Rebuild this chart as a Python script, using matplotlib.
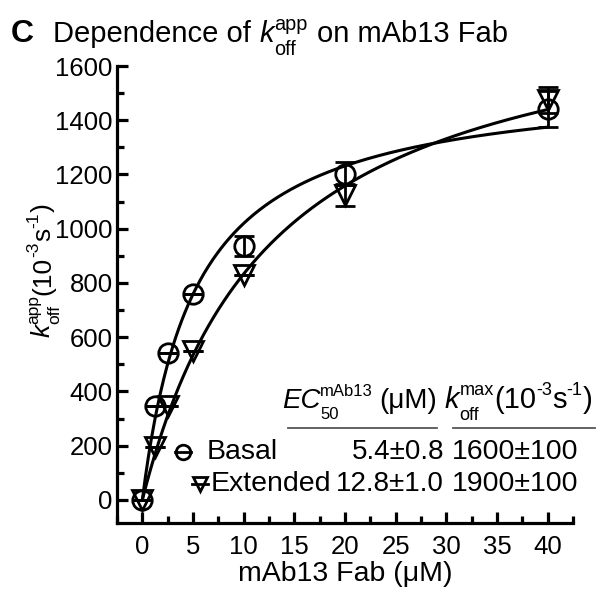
import numpy as np
import matplotlib
matplotlib.use("Agg")
import matplotlib.pyplot as plt
from matplotlib.lines import Line2D

plt.rcParams['font.family'] = ['Liberation Sans', 'DejaVu Sans']

# ---- data ----
conc = [0, 1.25, 2.5, 5, 10, 20, 40]
basal = [0, 347, 543, 759, 936, 1203, 1441]
basal_err = [0, 0, 0, 0, 37, 43, 67]
extended = [0, 195, 346, 549, 828, 1123, 1475]
extended_err = [0, 0, 0, 0, 0, 41, 49]

# fitted hyperbola parameters (kmax, EC50)
basal_fit = (1555, 5.25)
extended_fit = (1900, 12.8)

series_names = ["Basal", "Extended"]
ec50_text = ["5.4\u00b10.8", "12.8\u00b11.0"]
kmax_text = ["1600\u00b1100", "1900\u00b1100"]

xticks = [0, 5, 10, 15, 20, 25, 30, 35, 40]
yticks = [0, 200, 400, 600, 800, 1000, 1200, 1400, 1600]

W, H = 600, 590
fig = plt.figure(figsize=(W / 100, H / 100), dpi=100)
renderer = fig.canvas.get_renderer()


def fx(px):
    return px / W


def fy(py):
    return 1 - py / H


def measure(s, size, style='normal'):
    t = fig.text(0, 0, s, fontsize=size, style=style)
    w = t.get_window_extent(renderer).width
    t.remove()
    return w


def rich(x, y, parts, size, rot=0, ha='left', sscale=0.62, rise=0.42, drop=0.42):
    """Compose text with sub/superscripts. x, y: baseline anchor in pixels from top-left."""
    em = size * 100 / 72
    items = []
    u = 0.0
    for p in parts:
        kind = p[0]
        if kind in ('n', 'i'):
            st = 'italic' if kind == 'i' else 'normal'
            items.append((p[1], u, 0.0, size, st))
            u += measure(p[1], size, st)
        elif kind == 'sup':
            sz = size * sscale
            items.append((p[1], u, rise * em, sz, 'normal'))
            u += measure(p[1], sz)
        elif kind == 'ss':
            sz = size * sscale
            items.append((p[1], u, rise * em, sz, 'normal'))
            items.append((p[2], u, -drop * em, sz, 'normal'))
            u += max(measure(p[1], sz), measure(p[2], sz))
        elif kind == 'gap':
            u += p[1] * em
    shift = {'left': 0.0, 'center': -u / 2, 'right': -u}[ha]
    for s, uu, v, sz, st in items:
        a = uu + shift
        if rot == 0:
            dx, dy = a, v
        else:
            dx, dy = -v, a
        X = x + dx
        Y = (H - y) + dy
        fig.text(X / W, Y / H, s, fontsize=sz, style=st, rotation=rot,
                 ha='left', va='baseline', rotation_mode='anchor')


ax = fig.add_axes([fx(117), fy(523), fx(573) - fx(117), fy(66) - fy(523)])
ax.set_xlim(-2.5, 42.5)
ax.set_ylim(-85, 1600)

for s in ['top', 'right']:
    ax.spines[s].set_visible(False)
for s in ['left', 'bottom']:
    ax.spines[s].set_linewidth(2.3)

ax.set_xticks(xticks)
ax.set_yticks(yticks)
ax.set_xticks(np.arange(-2.5, 42.6, 2.5), minor=True)
ax.set_yticks(np.arange(-100, 1601, 100)[1:], minor=True)
ax.tick_params(which='major', direction='in', length=8, width=2.3,
               labelsize=18.5, pad=3)
ax.tick_params(which='minor', direction='in', length=5, width=2.3)
ax.tick_params(axis='x', pad=9)

lw = 2.2
ms = 14
xs = np.linspace(0, 40, 400)
k, K = basal_fit
ax.plot(xs, k * xs / (K + xs), color='black', lw=lw, zorder=2)
k, K = extended_fit
ax.plot(xs, k * xs / (K + xs), color='black', lw=lw, zorder=2)

ax.errorbar(conc, basal, yerr=basal_err, fmt='o', ms=ms, mfc='none',
            mec='black', mew=2.0, ecolor='black', elinewidth=2.0,
            capsize=7, capthick=2.0, clip_on=False, zorder=3)
ax.errorbar(conc, extended, yerr=extended_err, fmt='v', ms=ms, mfc='none',
            mec='black', mew=2.0, ecolor='black', elinewidth=2.0,
            capsize=7, capthick=2.0, clip_on=False, zorder=3)

# title
fig.text(fx(11), fy(42), "C", fontsize=23, fontweight='bold', va='baseline', ha='left')
rich(53, 42, [('n', 'Dependence of'), ('gap', 0.28), ('i', 'k'),
              ('ss', 'app', 'off'), ('gap', 0.35), ('n', 'on mAb13 Fab')],
     21, sscale=0.68, rise=0.41, drop=0.45)

# y label (rotated)
rich(50, 337, [('i', 'k'), ('ss', 'app', 'off'), ('n', '(10'), ('sup', '-3'),
               ('n', 's'), ('sup', '-1'), ('n', ')')],
     19, rot=90, sscale=0.66, rise=0.45, drop=0.35)

# x label
fig.text(fx(345), fy(574), "mAb13 Fab (\u03bcM)", fontsize=20.5,
         va='center', ha='center')

# table-like legend header
rich(437, 408, [('i', 'EC'), ('ss', 'mAb13', '50'), ('gap', 0.22), ('n', '(\u03bcM)')],
     20, ha='right', sscale=0.6, rise=0.45, drop=0.4)
rich(445, 408, [('i', 'k'), ('ss', 'max', 'off'), ('n', '(10'), ('sup', '-3'),
                ('n', 's'), ('sup', '-1'), ('n', ')')],
     21, ha='left', sscale=0.62, rise=0.45, drop=0.4)
fig.add_artist(Line2D([fx(288), fx(437)], [fy(428), fy(428)], color='#555555',
                      lw=1.3, transform=fig.transFigure))
fig.add_artist(Line2D([fx(453), fx(595)], [fy(428), fy(428)], color='#555555',
                      lw=1.3, transform=fig.transFigure))

row_y = [452, 484]
mk_x = [183, 200]
half = [8, 8]
txt_x = [207, 211]
markers = ['o', 'v']
for i in range(2):
    fig.add_artist(Line2D([fx(mk_x[i] - half[i]), fx(mk_x[i] + half[i])],
                          [fy(row_y[i]), fy(row_y[i])], color='black', lw=2.0,
                          transform=fig.transFigure))
    fig.add_artist(Line2D([fx(mk_x[i])], [fy(row_y[i])], color='black', lw=0,
                          marker=markers[i], ms=10.5, mfc='none', mec='black',
                          mew=2.0, transform=fig.transFigure))
    fig.text(fx(txt_x[i]), fy(row_y[i]), series_names[i], fontsize=20.5,
             ha='left', va='center')
    fig.text(fx(444), fy(row_y[i]), ec50_text[i], fontsize=20,
             ha='right', va='center')
    fig.text(fx(452), fy(row_y[i]), kmax_text[i], fontsize=20.5,
             ha='left', va='center')

fig.savefig("out.png", dpi=100)
